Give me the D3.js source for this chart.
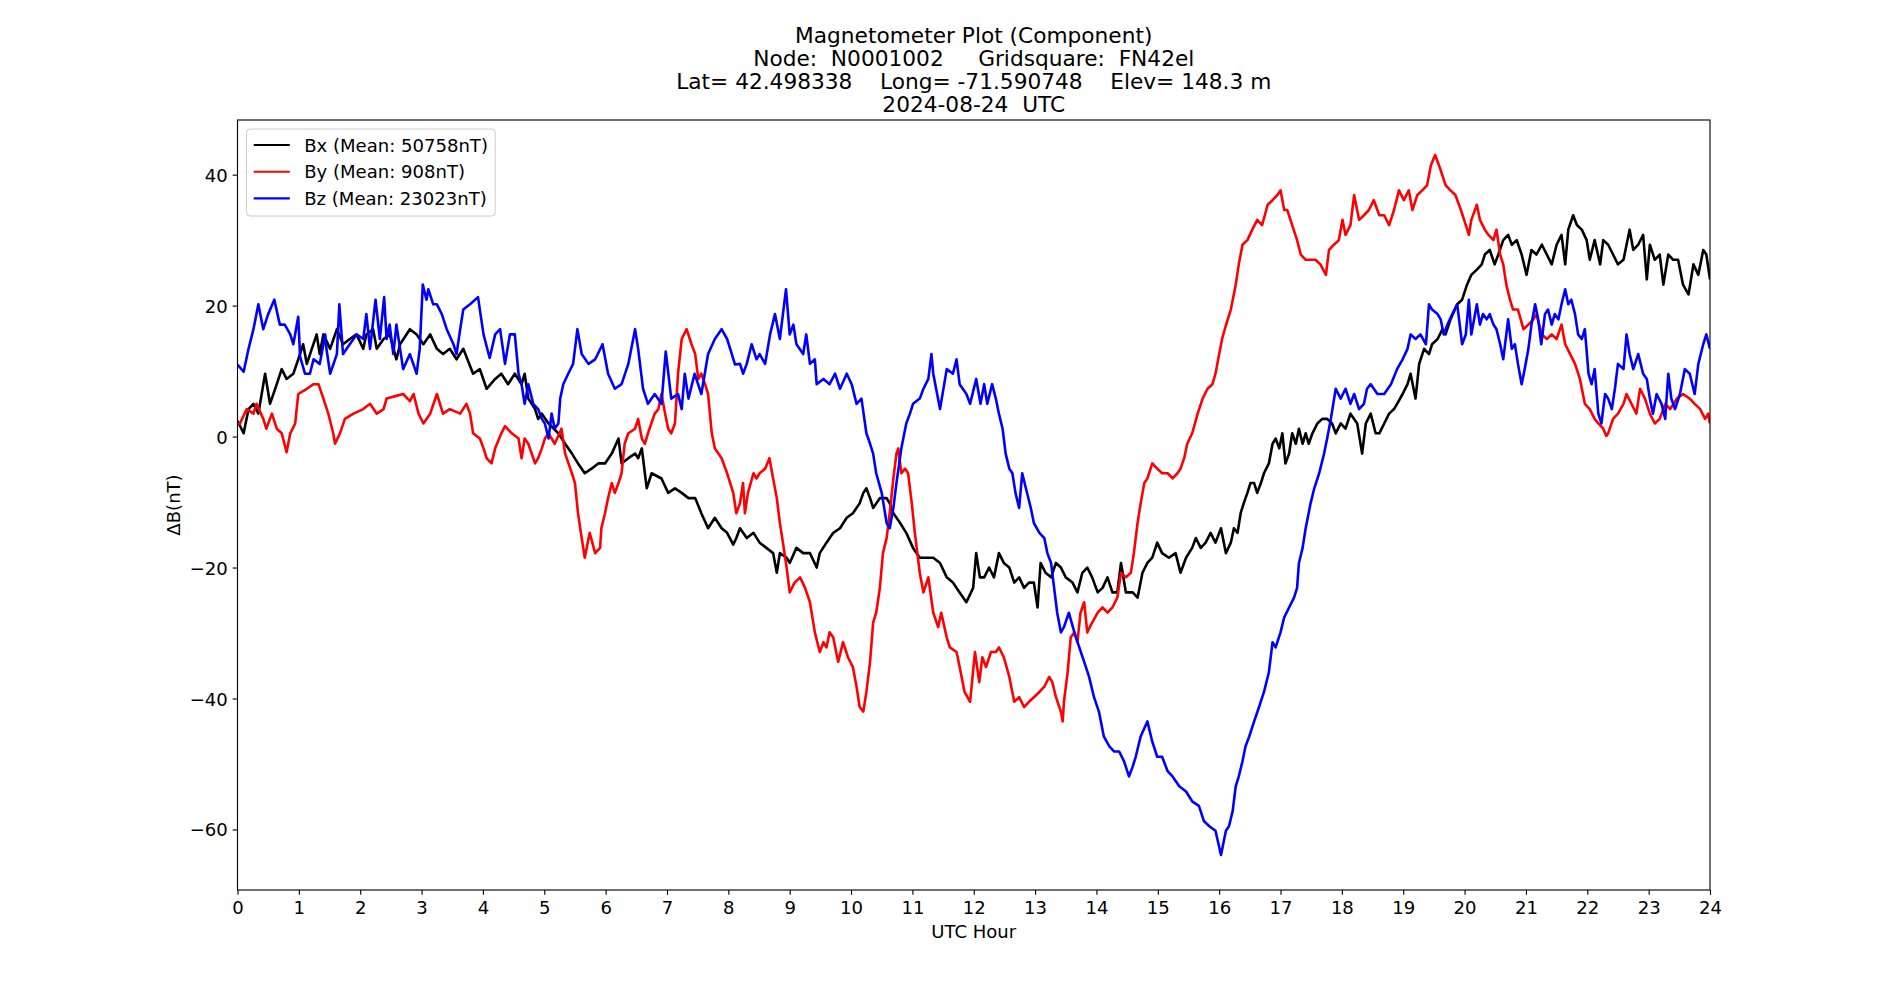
<!DOCTYPE html>
<html>
<head>
<meta charset="utf-8">
<script src="https://cdn.jsdelivr.net/npm/d3@7"></script>
<style>
body { margin: 0; background: #fff; }
svg text { font-family: "DejaVu Sans", sans-serif; fill: #000; }
</style>
</head>
<body>
<div id="chart"></div>
<script>
// readings: [UTC hour, delta B in nT]
const bxData = [[0.00,2.4],[0.10,0.5],[0.18,4.2],[0.26,5.0],[0.34,3.5],[0.45,9.6],[0.53,5.0],[0.64,8.0],[0.72,10.3],[0.80,8.8],[0.91,9.6],[0.99,11.8],[1.07,14.1],[1.13,11.1],[1.29,15.6],[1.34,12.6],[1.40,15.6],[1.51,13.4],[1.62,16.4],[1.72,14.1],[1.83,14.9],[1.94,15.6],[2.05,13.4],[2.10,15.6],[2.21,16.4],[2.27,13.4],[2.38,14.9],[2.48,15.6],[2.59,11.8],[2.65,14.1],[2.81,16.4],[2.92,15.6],[3.03,14.1],[3.14,15.6],[3.25,13.4],[3.35,12.6],[3.46,13.4],[3.57,11.8],[3.68,13.4],[3.84,9.6],[3.95,10.3],[4.06,7.3],[4.20,8.8],[4.30,9.6],[4.41,8.0],[4.52,9.6],[4.63,8.0],[4.68,9.6],[4.74,5.8],[4.85,4.2],[4.90,2.7],[4.96,3.5],[5.07,2.0],[5.23,0.5],[5.34,-1.1],[5.45,-2.6],[5.55,-4.1],[5.66,-5.6],[5.77,-4.9],[5.88,-4.1],[5.99,-4.1],[6.10,-2.6],[6.21,-0.3],[6.26,-4.1],[6.37,-3.3],[6.48,-2.6],[6.53,-3.3],[6.59,-1.8],[6.67,-7.9],[6.75,-5.6],[6.91,-6.4],[7.02,-8.6],[7.13,-7.9],[7.24,-8.6],[7.35,-9.4],[7.46,-9.4],[7.56,-11.7],[7.67,-14.0],[7.78,-12.4],[7.89,-14.0],[7.98,-14.7],[8.08,-16.5],[8.13,-15.5],[8.19,-14.0],[8.30,-15.5],[8.41,-14.7],[8.51,-16.2],[8.62,-17.0],[8.73,-17.8],[8.79,-20.8],[8.84,-17.8],[8.95,-18.5],[9.00,-19.3],[9.11,-17.0],[9.22,-17.8],[9.33,-17.8],[9.44,-20.0],[9.49,-17.8],[9.60,-16.2],[9.71,-14.7],[9.82,-14.0],[9.93,-12.4],[10.03,-11.7],[10.14,-10.2],[10.20,-8.6],[10.25,-7.9],[10.31,-9.4],[10.36,-10.9],[10.47,-9.4],[10.58,-9.4],[10.63,-10.2],[10.69,-11.7],[10.80,-13.2],[10.90,-14.7],[11.01,-17.0],[11.12,-18.5],[11.23,-18.5],[11.34,-18.5],[11.45,-19.3],[11.56,-21.5],[11.66,-22.3],[11.77,-23.8],[11.88,-25.3],[11.99,-23.1],[12.04,-17.8],[12.10,-21.5],[12.17,-21.5],[12.25,-20.0],[12.33,-21.5],[12.41,-17.8],[12.49,-19.3],[12.58,-20.0],[12.66,-22.3],[12.74,-21.5],[12.82,-23.1],[12.90,-22.3],[12.98,-22.3],[13.04,-26.1],[13.09,-19.3],[13.17,-20.8],[13.26,-21.5],[13.34,-19.3],[13.42,-20.0],[13.50,-21.5],[13.61,-22.3],[13.69,-23.8],[13.77,-20.8],[13.85,-20.0],[13.93,-21.5],[14.02,-23.8],[14.10,-23.1],[14.18,-21.5],[14.26,-23.8],[14.34,-23.8],[14.40,-19.3],[14.48,-23.8],[14.59,-23.8],[14.67,-24.6],[14.75,-20.8],[14.83,-19.3],[14.91,-18.5],[14.99,-16.2],[15.07,-17.8],[15.18,-18.5],[15.29,-17.8],[15.37,-20.8],[15.46,-18.5],[15.56,-17.0],[15.62,-15.5],[15.70,-17.0],[15.78,-16.2],[15.86,-14.7],[15.94,-16.2],[16.03,-14.0],[16.11,-17.8],[16.19,-16.2],[16.24,-14.0],[16.30,-14.7],[16.35,-11.7],[16.40,-10.2],[16.46,-8.6],[16.51,-7.1],[16.57,-7.1],[16.62,-8.6],[16.68,-7.1],[16.73,-5.6],[16.81,-4.1],[16.87,-1.1],[16.92,-0.3],[16.98,-1.8],[17.03,0.5],[17.08,-4.1],[17.14,-2.6],[17.19,0.5],[17.25,-1.1],[17.30,1.2],[17.36,-1.1],[17.41,0.5],[17.46,-1.1],[17.52,0.5],[17.60,2.0],[17.68,2.7],[17.76,2.7],[17.84,2.0],[17.90,0.5],[17.98,2.0],[18.06,1.2],[18.14,3.5],[18.25,2.0],[18.33,-2.6],[18.39,2.0],[18.47,3.5],[18.55,0.5],[18.61,0.5],[18.69,2.0],[18.77,3.5],[18.85,4.2],[18.90,5.0],[18.99,6.5],[19.07,8.0],[19.12,9.6],[19.20,5.8],[19.26,11.1],[19.34,13.4],[19.42,12.6],[19.47,14.1],[19.56,14.9],[19.64,16.4],[19.69,15.6],[19.77,17.9],[19.88,20.2],[19.96,20.9],[20.04,23.2],[20.11,24.7],[20.20,25.5],[20.28,26.3],[20.33,27.8],[20.41,28.5],[20.49,26.3],[20.55,27.8],[20.63,30.0],[20.71,30.8],[20.77,29.3],[20.85,30.0],[20.93,27.8],[21.01,24.7],[21.09,28.5],[21.17,27.8],[21.26,29.3],[21.34,27.8],[21.42,26.3],[21.50,29.3],[21.58,30.8],[21.64,26.3],[21.69,31.6],[21.77,33.8],[21.83,32.3],[21.91,31.6],[21.99,30.0],[22.04,27.0],[22.12,30.0],[22.21,26.3],[22.26,30.0],[22.34,29.3],[22.42,27.8],[22.50,26.3],[22.59,27.0],[22.69,31.6],[22.75,28.5],[22.83,29.3],[22.91,30.8],[22.97,24.0],[23.02,29.3],[23.10,27.0],[23.18,27.8],[23.24,23.2],[23.32,27.8],[23.40,27.0],[23.48,27.0],[23.56,23.2],[23.65,21.7],[23.73,26.3],[23.81,24.7],[23.89,28.5],[23.94,27.8],[24.00,24.0]];

const byData = [[0.00,2.0],[0.04,2.0],[0.15,4.2],[0.26,3.5],[0.31,5.0],[0.42,2.7],[0.47,1.2],[0.56,3.5],[0.64,1.2],[0.72,0.5],[0.80,-2.4],[0.86,0.5],[0.94,2.0],[0.99,6.5],[1.13,7.3],[1.24,8.0],[1.32,8.0],[1.40,5.8],[1.48,3.5],[1.56,0.5],[1.59,-1.1],[1.67,0.5],[1.75,2.7],[1.89,3.5],[2.05,4.2],[2.16,5.0],[2.27,3.5],[2.38,4.2],[2.43,5.8],[2.54,6.1],[2.70,6.5],[2.81,5.4],[2.87,6.5],[2.95,3.5],[3.03,2.0],[3.14,3.5],[3.25,6.5],[3.35,3.5],[3.46,4.2],[3.63,3.5],[3.73,5.0],[3.79,3.5],[3.84,0.5],[3.95,-0.3],[4.01,-1.8],[4.06,-3.3],[4.14,-4.1],[4.20,-1.8],[4.30,0.5],[4.36,1.6],[4.47,0.5],[4.58,-0.3],[4.63,-3.3],[4.68,-0.3],[4.74,-1.1],[4.85,-4.1],[4.90,-3.3],[4.96,-1.8],[5.01,-0.3],[5.07,0.5],[5.17,-1.1],[5.28,1.2],[5.34,-2.6],[5.45,-5.6],[5.50,-7.1],[5.55,-11.7],[5.61,-15.5],[5.66,-18.5],[5.74,-14.7],[5.83,-17.8],[5.91,-17.0],[5.93,-14.0],[5.99,-11.7],[6.04,-9.4],[6.10,-7.1],[6.15,-8.6],[6.21,-7.1],[6.26,-5.6],[6.31,-1.1],[6.37,0.5],[6.48,1.2],[6.53,2.7],[6.59,-0.3],[6.64,-1.1],[6.69,0.5],[6.80,3.5],[6.86,4.2],[6.91,6.5],[6.97,3.5],[7.02,1.2],[7.07,0.5],[7.13,2.0],[7.18,9.6],[7.24,14.9],[7.32,16.4],[7.40,14.1],[7.46,12.6],[7.51,8.8],[7.56,9.6],[7.62,8.0],[7.67,6.5],[7.73,0.5],[7.78,-1.8],[7.89,-3.3],[7.98,-5.6],[8.03,-7.1],[8.08,-8.6],[8.13,-11.7],[8.19,-10.2],[8.24,-7.1],[8.27,-11.7],[8.32,-8.6],[8.41,-5.6],[8.46,-6.4],[8.51,-5.6],[8.60,-4.9],[8.67,-3.3],[8.73,-6.4],[8.79,-9.4],[8.84,-13.2],[8.89,-16.2],[8.95,-20.0],[9.00,-23.8],[9.08,-22.3],[9.17,-21.5],[9.25,-23.1],[9.33,-25.3],[9.41,-29.9],[9.49,-32.9],[9.55,-31.4],[9.60,-32.2],[9.65,-29.9],[9.71,-30.7],[9.79,-34.4],[9.87,-31.4],[9.95,-33.7],[10.03,-35.2],[10.09,-38.2],[10.14,-41.3],[10.20,-42.0],[10.25,-39.0],[10.31,-34.4],[10.36,-28.4],[10.41,-26.9],[10.47,-23.1],[10.52,-17.8],[10.58,-15.5],[10.63,-11.7],[10.69,-6.4],[10.74,-2.6],[10.77,-1.8],[10.82,-5.6],[10.88,-4.9],[10.93,-5.6],[10.99,-10.2],[11.04,-14.7],[11.12,-20.8],[11.18,-23.8],[11.26,-21.5],[11.34,-26.9],[11.42,-29.1],[11.47,-26.9],[11.56,-30.7],[11.61,-32.2],[11.72,-32.9],[11.77,-35.2],[11.85,-39.0],[11.94,-40.5],[12.02,-32.9],[12.09,-37.5],[12.14,-33.7],[12.20,-35.2],[12.28,-32.9],[12.36,-32.9],[12.41,-32.2],[12.49,-33.7],[12.58,-36.7],[12.66,-40.5],[12.74,-39.8],[12.82,-41.3],[12.90,-40.5],[12.98,-39.8],[13.07,-39.0],[13.15,-38.2],[13.23,-36.7],[13.28,-37.5],[13.34,-39.8],[13.42,-42.0],[13.45,-43.5],[13.47,-40.5],[13.53,-36.0],[13.58,-30.7],[13.64,-29.9],[13.69,-31.4],[13.74,-26.9],[13.80,-25.3],[13.85,-29.9],[13.93,-28.4],[14.02,-26.9],[14.10,-26.1],[14.18,-26.9],[14.26,-26.1],[14.34,-24.6],[14.40,-20.8],[14.48,-21.5],[14.56,-20.8],[14.61,-17.8],[14.67,-13.2],[14.72,-10.2],[14.78,-7.1],[14.83,-6.4],[14.91,-4.1],[14.99,-4.9],[15.07,-5.6],[15.16,-5.6],[15.24,-6.4],[15.32,-5.6],[15.37,-4.9],[15.43,-3.3],[15.48,-1.1],[15.56,0.5],[15.65,3.5],[15.73,5.8],[15.81,7.3],[15.89,8.0],[15.94,9.6],[16.00,12.6],[16.05,15.0],[16.11,17.0],[16.19,19.4],[16.27,23.2],[16.32,26.3],[16.38,29.3],[16.46,30.0],[16.54,31.6],[16.62,33.1],[16.70,32.3],[16.79,35.4],[16.87,36.1],[16.95,36.9],[17.00,37.6],[17.06,34.6],[17.11,34.6],[17.19,32.3],[17.27,30.0],[17.33,27.8],[17.41,27.0],[17.49,27.0],[17.57,27.0],[17.65,26.3],[17.74,24.7],[17.79,28.5],[17.87,29.3],[17.95,30.0],[18.01,33.1],[18.06,30.8],[18.14,32.3],[18.20,36.9],[18.28,33.1],[18.36,33.8],[18.44,34.6],[18.52,36.1],[18.61,33.8],[18.69,33.8],[18.77,32.3],[18.85,34.6],[18.93,37.6],[19.01,36.1],[19.09,37.6],[19.15,34.6],[19.23,36.9],[19.31,37.6],[19.39,38.4],[19.45,41.4],[19.52,43.0],[19.61,40.7],[19.69,38.4],[19.77,37.6],[19.85,36.9],[19.94,34.6],[20.02,32.3],[20.07,30.8],[20.11,33.1],[20.20,35.4],[20.25,33.1],[20.33,31.6],[20.39,30.8],[20.47,30.0],[20.52,31.6],[20.58,27.8],[20.63,26.3],[20.68,23.2],[20.74,20.9],[20.79,19.4],[20.87,19.4],[20.96,16.4],[21.04,17.1],[21.12,17.9],[21.17,18.7],[21.26,15.6],[21.34,14.9],[21.42,15.6],[21.50,14.9],[21.58,17.1],[21.64,14.1],[21.72,12.6],[21.80,11.1],[21.88,8.8],[21.96,5.0],[22.04,4.2],[22.12,2.7],[22.18,2.0],[22.26,1.2],[22.31,0.1],[22.34,0.5],[22.42,2.7],[22.50,3.5],[22.59,5.0],[22.64,6.5],[22.72,5.0],[22.80,3.5],[22.86,7.3],[22.94,5.8],[23.02,3.5],[23.10,2.0],[23.18,2.7],[23.27,5.0],[23.35,4.2],[23.46,5.8],[23.56,6.5],[23.67,5.8],[23.75,5.0],[23.84,4.2],[23.92,2.7],[23.97,3.5],[24.00,2.0]];

const bzData = [[0.00,11.0],[0.10,9.9],[0.18,13.4],[0.26,16.4],[0.34,20.2],[0.42,16.4],[0.50,18.7],[0.60,20.9],[0.69,17.1],[0.77,17.1],[0.86,15.6],[0.91,14.1],[0.99,18.3],[1.02,12.2],[1.10,9.6],[1.18,9.6],[1.24,11.8],[1.34,11.1],[1.43,15.6],[1.45,13.4],[1.51,9.6],[1.62,12.6],[1.66,20.2],[1.72,12.6],[1.83,14.1],[1.94,15.6],[2.05,14.9],[2.10,18.7],[2.16,13.4],[2.25,20.9],[2.32,14.9],[2.39,21.3],[2.43,14.9],[2.48,17.1],[2.54,12.6],[2.59,17.1],[2.70,10.3],[2.81,12.6],[2.92,9.6],[2.97,13.4],[3.02,23.2],[3.08,20.9],[3.11,22.5],[3.19,20.2],[3.25,20.2],[3.33,18.7],[3.41,16.4],[3.52,14.1],[3.57,12.6],[3.63,16.4],[3.68,19.4],[3.79,20.2],[3.92,21.3],[4.01,15.6],[4.11,12.0],[4.20,15.6],[4.28,16.4],[4.36,11.1],[4.44,15.6],[4.52,15.6],[4.58,9.6],[4.63,8.0],[4.68,5.0],[4.74,8.0],[4.82,5.0],[4.90,4.2],[4.96,2.7],[5.01,2.0],[5.07,-0.3],[5.12,3.5],[5.17,1.2],[5.23,2.0],[5.26,5.8],[5.31,8.0],[5.39,9.6],[5.47,11.1],[5.54,16.4],[5.61,12.6],[5.72,11.1],[5.83,11.8],[5.95,14.1],[6.04,9.6],[6.15,7.3],[6.26,8.0],[6.37,11.1],[6.48,16.4],[6.53,13.4],[6.61,7.3],[6.69,5.0],[6.80,6.5],[6.91,5.0],[6.98,13.0],[7.07,5.8],[7.18,6.5],[7.24,4.2],[7.29,9.6],[7.35,5.8],[7.45,9.6],[7.56,6.5],[7.67,12.6],[7.78,14.9],[7.89,16.4],[7.98,14.9],[8.11,11.0],[8.19,11.1],[8.24,9.6],[8.30,11.1],[8.38,14.1],[8.46,11.8],[8.51,12.6],[8.60,11.1],[8.68,15.6],[8.76,18.7],[8.84,14.9],[8.89,18.7],[8.94,22.5],[9.00,15.6],[9.06,17.1],[9.11,14.1],[9.22,12.6],[9.27,15.6],[9.33,11.1],[9.41,11.8],[9.44,8.0],[9.55,8.8],[9.65,8.0],[9.74,9.6],[9.82,7.3],[9.93,9.6],[10.01,8.0],[10.09,5.0],[10.17,5.8],[10.25,0.5],[10.31,-1.1],[10.36,-2.6],[10.41,-5.6],[10.50,-8.6],[10.58,-13.2],[10.63,-14.0],[10.69,-10.9],[10.74,-7.1],[10.82,-1.8],[10.90,2.0],[10.96,3.5],[11.01,5.0],[11.12,5.8],[11.18,7.3],[11.26,8.8],[11.31,12.6],[11.34,9.6],[11.45,4.2],[11.56,10.3],[11.66,9.6],[11.72,11.8],[11.77,8.0],[11.88,6.5],[11.94,5.0],[12.04,8.8],[12.11,5.0],[12.17,8.0],[12.22,5.0],[12.30,8.0],[12.36,5.8],[12.41,3.5],[12.47,1.2],[12.52,-2.6],[12.58,-4.9],[12.63,-5.6],[12.68,-8.6],[12.74,-10.9],[12.79,-5.6],[12.85,-7.9],[12.93,-10.9],[12.98,-13.2],[13.07,-14.7],[13.15,-15.5],[13.20,-17.8],[13.26,-19.3],[13.31,-23.1],[13.36,-26.9],[13.42,-29.9],[13.47,-29.1],[13.55,-26.9],[13.64,-29.9],[13.72,-32.2],[13.80,-34.4],[13.88,-36.7],[13.96,-39.8],[14.04,-42.0],[14.12,-45.8],[14.21,-47.3],[14.29,-48.1],[14.37,-48.1],[14.45,-49.6],[14.53,-51.9],[14.59,-50.4],[14.64,-48.9],[14.72,-45.8],[14.83,-43.5],[14.91,-46.6],[14.99,-48.9],[15.07,-48.9],[15.16,-51.1],[15.24,-51.9],[15.35,-53.4],[15.46,-54.2],[15.56,-55.7],[15.67,-56.4],[15.75,-58.7],[15.84,-59.5],[15.94,-60.2],[16.03,-63.9],[16.11,-60.2],[16.16,-59.5],[16.22,-57.2],[16.27,-53.4],[16.32,-51.9],[16.38,-49.6],[16.43,-47.3],[16.49,-45.8],[16.57,-43.5],[16.65,-41.3],[16.73,-39.0],[16.81,-36.0],[16.87,-31.4],[16.92,-32.2],[17.00,-29.9],[17.06,-27.6],[17.14,-26.1],[17.22,-24.6],[17.27,-23.1],[17.30,-19.3],[17.36,-17.0],[17.41,-14.0],[17.49,-10.2],[17.55,-7.9],[17.63,-5.6],[17.71,-2.6],[17.76,-0.3],[17.82,2.7],[17.90,7.3],[17.98,5.8],[18.06,7.3],[18.14,5.0],[18.20,6.5],[18.28,4.2],[18.36,5.0],[18.41,7.3],[18.47,8.0],[18.58,6.5],[18.69,6.5],[18.80,8.0],[18.90,10.3],[18.99,11.8],[19.07,13.4],[19.12,15.6],[19.20,14.9],[19.28,15.6],[19.37,14.1],[19.42,20.2],[19.47,19.4],[19.56,18.7],[19.61,17.9],[19.66,15.6],[19.72,17.1],[19.80,18.7],[19.88,20.2],[19.96,14.1],[20.02,15.6],[20.07,20.9],[20.11,15.6],[20.20,20.2],[20.25,17.1],[20.30,18.7],[20.36,17.9],[20.41,18.7],[20.47,17.1],[20.52,16.4],[20.58,14.1],[20.63,11.8],[20.71,17.9],[20.77,13.4],[20.82,14.1],[20.87,11.1],[20.93,8.0],[20.98,10.3],[21.04,13.4],[21.09,17.1],[21.15,20.2],[21.20,17.9],[21.25,14.1],[21.31,18.7],[21.36,19.4],[21.42,17.1],[21.47,18.7],[21.53,17.9],[21.58,20.2],[21.64,22.5],[21.69,20.2],[21.74,20.9],[21.80,18.7],[21.85,15.6],[21.91,14.9],[21.96,16.4],[22.02,9.6],[22.07,8.0],[22.12,10.3],[22.18,3.5],[22.23,2.0],[22.29,6.5],[22.34,5.8],[22.40,4.2],[22.45,7.3],[22.50,11.1],[22.59,10.3],[22.64,15.6],[22.69,12.6],[22.75,10.3],[22.83,12.6],[22.91,9.6],[22.97,8.8],[23.02,5.8],[23.07,3.5],[23.13,6.5],[23.21,5.0],[23.27,2.7],[23.32,9.6],[23.37,5.8],[23.43,4.2],[23.51,6.5],[23.59,10.3],[23.67,9.6],[23.75,6.5],[23.81,11.1],[23.89,14.1],[23.94,15.6],[24.00,13.4]];

const xTicks = d3.range(0, 25, 1);
const yTicks = [-60, -40, -20, 0, 20, 40];
const seriesNames = ["Bx (Mean: 50758nT)", "By (Mean: 908nT)", "Bz (Mean: 23023nT)"];
const seriesColors = ["#000000", "#ff0000", "#0000ff"];
const titleLines = [
    "Magnetometer Plot (Component)",
    "Node:  N0001002     Gridsquare:  FN42el",
    "Lat= 42.498338    Long= -71.590748    Elev= 148.3 m",
    "2024-08-24  UTC"
];

const width = 1900, height = 1000;
const margin = {top: 120, right: 190, bottom: 110, left: 237.5};
const innerW = width - margin.left - margin.right;
const innerH = height - margin.top - margin.bottom;
const fs = 18.06;      // 13pt
const lw = 2.08;       // 1.5pt line, legend handles
const dataLw = 2.6;    // a bit heavier to stand in for the noisy trace

const series = [bxData, byData, bzData].map((d, i) => ({
    name: seriesNames[i], color: seriesColors[i], values: d
}));

// matplotlib-style 5% margin on y
const allVals = series.flatMap(s => s.values.map(d => d[1]));
const yMin = d3.min(allVals), yMax = d3.max(allVals);
const pad = (yMax - yMin) * 0.05;

const x = d3.scaleLinear().domain([0, 24]).range([0, innerW]);
const y = d3.scaleLinear().domain([yMin - pad, yMax + pad]).range([innerH, 0]);

const svg = d3.select("#chart").append("svg")
    .attr("width", width)
    .attr("height", height)
    .style("display", "block");

svg.append("rect").attr("width", width).attr("height", height).attr("fill", "#fff");

// title
const title = svg.append("text")
    .attr("text-anchor", "middle")
    .style("font-size", "21.7px")
    .style("white-space", "pre");
titleLines.forEach((t, i) => {
    title.append("tspan")
        .attr("x", margin.left + innerW / 2)
        .attr("y", 43 + i * 23)
        .text(t);
});

const g = svg.append("g").attr("transform", `translate(${margin.left},${margin.top})`);

g.append("clipPath").attr("id", "clip")
    .append("rect").attr("width", innerW).attr("height", innerH);

const line = d3.line().x(d => x(d[0])).y(d => y(d[1]));

g.append("g").attr("clip-path", "url(#clip)")
    .selectAll("path")
    .data(series)
    .join("path")
    .attr("d", d => line(d.values))
    .attr("fill", "none")
    .attr("stroke", d => d.color)
    .attr("stroke-width", dataLw)
    .attr("stroke-linejoin", "round");

// axes
const xAxis = g.append("g")
    .attr("transform", `translate(0,${innerH})`)
    .call(d3.axisBottom(x).tickValues(xTicks).tickFormat(d3.format("d")).tickSize(4.86).tickPadding(4.86).tickSizeOuter(0));
const yAxis = g.append("g")
    .call(d3.axisLeft(y).tickValues(yTicks).tickSize(4.86).tickPadding(4.86).tickSizeOuter(0));

[xAxis, yAxis].forEach(a => {
    a.select(".domain").remove();
    a.attr("font-family", null).attr("font-size", null);
    a.selectAll("line").attr("stroke", "#000").attr("stroke-width", 1.11);
    a.selectAll("text").style("font-size", fs + "px").attr("fill", "#000");
});
xAxis.selectAll("text").attr("dy", "0.78em");
yAxis.selectAll("text").attr("dy", "0.36em");

g.append("rect")
    .attr("width", innerW)
    .attr("height", innerH)
    .attr("fill", "none")
    .attr("stroke", "#000")
    .attr("stroke-width", 1.11);

// axis labels
svg.append("text")
    .attr("x", margin.left + innerW / 2)
    .attr("y", 937.5)
    .attr("text-anchor", "middle")
    .style("font-size", fs + "px")
    .text("UTC Hour");

svg.append("text")
    .attr("transform", `translate(180,${margin.top + innerH / 2}) rotate(-90)`)
    .attr("text-anchor", "middle")
    .style("font-size", fs + "px")
    .text("ΔB(nT)");

// legend
const legend = g.append("g").attr("transform", `translate(9,9)`);
legend.append("rect")
    .attr("width", 248.7)
    .attr("height", 87)
    .attr("rx", 3.6)
    .attr("fill", "#fff")
    .attr("fill-opacity", 0.8)
    .attr("stroke", "#cccccc")
    .attr("stroke-width", 1);

const rows = legend.selectAll(".row")
    .data(series)
    .join("g")
    .attr("class", "row")
    .attr("transform", (d, i) => `translate(0,${16 + i * 26.7})`);

rows.append("line")
    .attr("x1", 7.2).attr("x2", 43.3)
    .attr("stroke", d => d.color)
    .attr("stroke-width", lw);

rows.append("text")
    .attr("x", 57.7)
    .attr("y", 6.6)
    .style("font-size", fs + "px")
    .text(d => d.name);
</script>
</body>
</html>
